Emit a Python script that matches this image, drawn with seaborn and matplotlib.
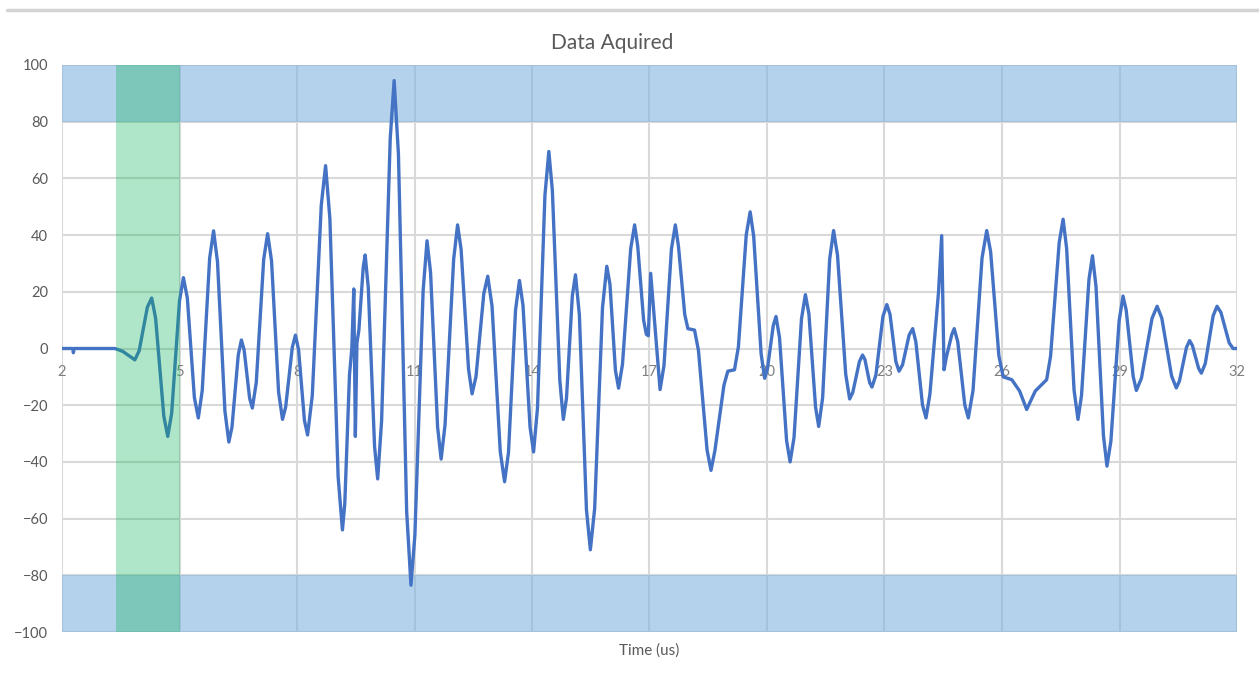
import matplotlib
matplotlib.use("Agg")
from matplotlib import pyplot as plt
from matplotlib.lines import Line2D
import seaborn as sns
import pandas as pd

# waveform (time in us, amplitude)
time_us = [2.0, 2.28, 2.29, 2.31, 3.35, 3.55, 3.86, 3.97, 4.18, 4.29,
           4.39, 4.60, 4.70, 4.80, 5.00, 5.10, 5.20, 5.38, 5.48, 5.58,
           5.77, 5.87, 5.97, 6.16, 6.26, 6.34, 6.50, 6.58, 6.65, 6.79,
           6.86, 6.96, 7.15, 7.25, 7.35, 7.53, 7.63, 7.71, 7.88, 7.96,
           8.04, 8.19, 8.27, 8.39, 8.62, 8.73, 8.84, 9.05, 9.16, 9.22,
           9.34, 9.40, 9.45, 9.49, 9.53, 9.58, 9.69, 9.74, 9.82, 9.98,
           10.06, 10.16, 10.38, 10.48, 10.59, 10.80, 10.91, 11.01, 11.22, 11.32,
           11.41, 11.59, 11.68, 11.78, 12.00, 12.10, 12.19, 12.38, 12.47, 12.57,
           12.77, 12.87, 12.98, 13.19, 13.30, 13.40, 13.58, 13.68, 13.77, 13.95,
           14.04, 14.14, 14.33, 14.43, 14.52, 14.71, 14.80, 14.88, 15.03, 15.11,
           15.21, 15.39, 15.49, 15.60, 15.80, 15.91, 15.99, 16.13, 16.21, 16.31,
           16.52, 16.62, 16.70, 16.85, 16.92, 16.97, 17.03, 17.27, 17.37, 17.56,
           17.66, 17.74, 17.90, 17.98, 18.15, 18.25, 18.47, 18.57, 18.67, 18.90,
           19.00, 19.17, 19.27, 19.47, 19.57, 19.66, 19.85, 19.94, 20.01, 20.16,
           20.23, 20.32, 20.50, 20.59, 20.69, 20.88, 20.98, 21.07, 21.24, 21.32,
           21.42, 21.60, 21.70, 21.80, 22.01, 22.11, 22.19, 22.36, 22.44, 22.50,
           22.62, 22.68, 22.78, 22.96, 23.06, 23.14, 23.29, 23.37, 23.46, 23.63,
           23.72, 23.80, 23.97, 24.06, 24.16, 24.38, 24.46, 24.52, 24.58, 24.72,
           24.78, 24.87, 25.05, 25.14, 25.26, 25.49, 25.61, 25.71, 25.92, 26.03,
           26.25, 26.45, 26.63, 26.85, 27.14, 27.24, 27.46, 27.56, 27.65, 27.84,
           27.94, 28.03, 28.22, 28.31, 28.40, 28.59, 28.68, 28.78, 28.99, 29.09,
           29.17, 29.35, 29.43, 29.56, 29.83, 29.96, 30.08, 30.33, 30.45, 30.53,
           30.71, 30.79, 30.86, 31.02, 31.09, 31.19, 31.39, 31.49, 31.59, 31.80,
           31.90, 32.0]
amplitude = [0, 0, -1.5, 0, 0, -1, -4, -0.8, 14.6, 17.8,
             10.7, -23.9, -31, -22.8, 16.8, 25, 17.8, -17.3, -24.5, -14.9,
             31.9, 41.5, 30.6, -22.1, -33, -27.7, -2.3, 3, -0.5, -17.5,
             -21, -12, 31.5, 40.5, 30.9, -15.4, -25, -20.7, 0.4, 4.7,
             -0.4, -25.4, -30.5, -16.6, 50.6, 64.5, 45.7, -45.2, -64, -54.7,
             -9.3, 0, 21, -31, 2, 6.5, 28.5, 33, 21.5, -34.5,
             -46, -25.5, 74, 94.5, 68.5, -57.5, -83.5, -65.8, 20.3, 38,
             26.8, -27.8, -39, -26.9, 31.5, 43.6, 34.9, -7.3, -16, -9.9,
             19.4, 25.5, 14.9, -36.4, -47, -36.6, 13.6, 24, 15.2, -27.7,
             -36.5, -21, 54, 69.5, 55.7, -11.2, -25, -17.6, 18.6, 26,
             11.8, -56.8, -71, -56.4, 14.4, 29, 22.7, -7.7, -14, -5.6,
             35.2, 43.6, 36, 10, 5, 4.5, 26.5, -14.5, -6, 35.1,
             43.6, 36, 12, 7, 6.5, -0.7, -35.8, -43, -36, -13,
             -8, -7.5, 0.6, 40.1, 48.2, 39.6, -1.9, -10.5, -7.3, 8.1,
             11.3, 3.8, -32.5, -40, -31.4, 10.4, 19, 12.2, -20.7, -27.5,
             -17.4, 31.5, 41.6, 32.9, -9.1, -17.8, -15.5, -4.6, -2.3, -3.9,
             -12, -13.6, -9.4, 11.3, 15.5, 12.1, -4.6, -8, -5.8, 4.8,
             7, 2.4, -19.9, -24.5, -16, 20, 39.8, -7.5, -3, 5,
             7, 2.4, -19.9, -24.5, -14.8, 31.9, 41.6, 34.1, -2.5, -10,
             -11, -15, -21.5, -15, -11, -2.7, 37.3, 45.6, 35.3, -14.7,
             -25, -16.6, 24.3, 32.7, 21.9, -30.7, -41.5, -32.7, 9.7, 18.5,
             13.6, -9.9, -14.8, -10.5, 10.6, 14.9, 10.7, -9.7, -13.9, -11.5,
             0.4, 2.8, 1.1, -7, -8.7, -5.3, 11.5, 14.9, 12.7, 2,
             0, 0]

x_ticks = [2, 5, 8, 11, 14, 17, 20, 23, 26, 29, 32]
y_ticks = [-100, -80, -60, -40, -20, 0, 20, 40, 60, 80, 100]
limit_bands = [(80, 100), (-100, -80)]
window = (3.38, 5.0)

df = pd.DataFrame({"Time (us)": time_us, "Amplitude": amplitude})

sns.set_style("white")
plt.rcParams["font.family"] = ["Lato", "DejaVu Sans"]

fig = plt.figure(figsize=(12.59, 6.88), dpi=100)
ax = fig.add_axes([62 / 1259, 1 - 632 / 688, (1237 - 62) / 1259, (632 - 65) / 688])

ax.set_axisbelow(True)
ax.grid(True, color="#D9D9D9", linewidth=1.5)

for lo, hi in limit_bands:
    ax.axhspan(lo, hi, color=(130 / 255, 180 / 255, 222 / 255), alpha=0.6, lw=0, zorder=1)

sns.lineplot(data=df, x="Time (us)", y="Amplitude", ax=ax, color="#4472C4",
             linewidth=2.4, sort=False, zorder=2)

ax.axvspan(window[0], window[1], color=(12 / 255, 179 / 255, 88 / 255), alpha=0.33, lw=0, zorder=3)

ax.set_xlim(2, 32)
ax.set_ylim(-100, 100)
ax.set_xticks(x_ticks)
ax.set_yticks(y_ticks)
ax.set_xticklabels([str(v) for v in x_ticks])

for s in ax.spines.values():
    s.set_visible(False)
ax.spines["bottom"].set_position(("data", 0))

ax.tick_params(axis="x", length=0, pad=12, labelsize=10.5, labelcolor="#7F7F7F")
ax.tick_params(axis="y", length=0, pad=10, labelsize=10.5, labelcolor="#595959")

ax.set_ylabel("")
ax.set_xlabel("Time (us)", fontsize=11, color="#595959")
ax.xaxis.set_label_coords(0.5, -0.02)

fig.text(612 / 1259, 1 - 43 / 688, "Data Aquired", ha="center", va="center",
         fontsize=15, color="#595959")

fig.add_artist(Line2D([7 / 1259, 1.0], [1 - 10 / 688, 1 - 10 / 688],
                      color="#D4D4D4", linewidth=2.5))

plt.savefig("out.png", dpi=100)
